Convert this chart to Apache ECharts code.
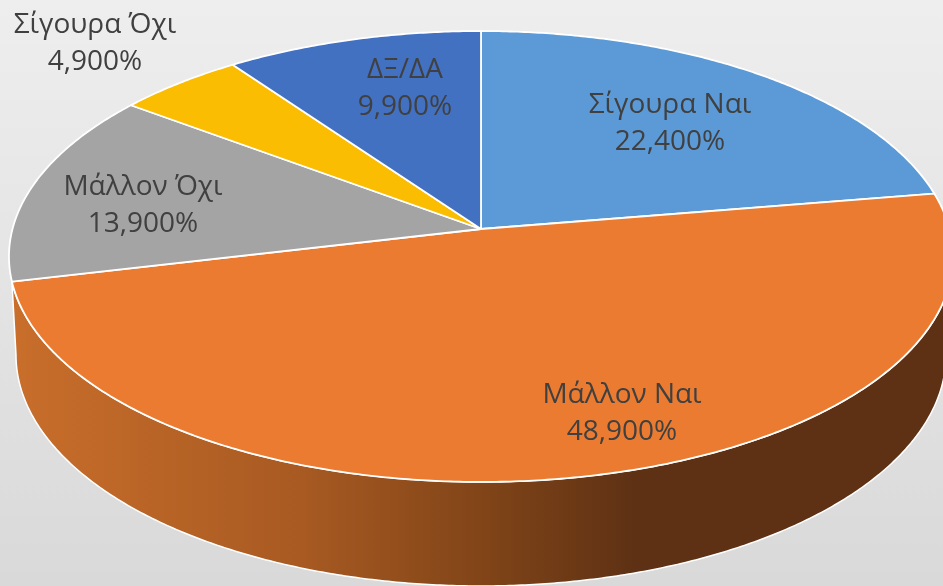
<!DOCTYPE html>
<html>
<head>
<meta charset="utf-8">
<style>html,body{margin:0;padding:0;background:#e5e5e5}#chart{width:943px;height:586px}</style>
<script src="https://cdn.jsdelivr.net/npm/echarts@6/dist/echarts.min.js"></script>
</head>
<body>
<div id="chart"></div>
<script>
const categories = ['Σίγουρα Ναι', 'Μάλλον Ναι', 'Μάλλον Όχι', 'Σίγουρα Όχι', 'ΔΞ/ΔΑ'];
const values = [22.4, 48.9, 13.9, 4.9, 9.9];
const colors = ['#5B9AD6', '#EB7B30', '#A4A4A4', '#FBBD02', '#4371C2'];
const labelCentres = [[670, 124], [622, 414], [143, 206], [95, 44], [405, 89]];

// Tilted-disc view: the pie's circle seen in perspective.
const view = { cx: 481, cy: 229, a: 468.5, b: 222.1, k: 0.122 };
const base = { cx: 481, cy: 355, rx: 465, ry: 231 };
const total = values.reduce((s, v) => s + v, 0);

function rim(deg) {
  const t = deg * Math.PI / 180, u = Math.sin(t), v = Math.cos(t), w = 1 + view.k * v;
  return [view.cx + view.a * u / w, view.cy - view.b * v / w];
}
function arc(from, to) {
  const n = Math.max(2, Math.ceil(Math.abs(to - from) * 2)), pts = [];
  for (let i = 0; i <= n; i++) pts.push(rim(from + (to - from) * i / n));
  return pts;
}
function wallPoints(from, to) {
  const pts = arc(from, to);
  for (let i = 0; i <= 360; i++) {
    const t = Math.PI * (1 - i / 360);
    pts.push([base.cx + base.rx * Math.cos(t), base.cy + base.ry * Math.sin(t)]);
  }
  return pts;
}
const wallFill = {
  type: 'linear', global: true, x: 12, y: 0, x2: 943, y2: 0,
  colorStops: [
    { offset: 0, color: '#C96E2B' },
    { offset: 0.31, color: '#A85A22' },
    { offset: 0.5, color: '#824518' },
    { offset: 0.67, color: '#5E3114' },
    { offset: 1, color: '#5E3114' }
  ]
};
const frontStart = Math.acos(-view.k) * 180 / Math.PI;

let running = 0;
const rows = values.map((v, i) => {
  const start = running / total * 360;
  running += v;
  return [start, running / total * 360, v, i];
});

function renderSlice(params, api) {
  const start = api.value(0), end = api.value(1), i = api.value(3);
  const children = [];
  if (start < 180 && end > 180) {
    children.push({
      type: 'polygon',
      shape: { points: wallPoints(Math.max(start, frontStart), end) },
      style: { fill: wallFill, stroke: '#fff', lineWidth: 1.5 }
    });
  }
  children.push({
    type: 'polygon',
    shape: { points: [[view.cx, view.cy]].concat(arc(start, end)) },
    style: { fill: colors[i], stroke: '#fff', lineWidth: 1.8, lineJoin: 'round' }
  });
  return { type: 'group', children };
}
function renderLabel(params, api) {
  const value = api.value(2), i = api.value(3);
  return {
    type: 'text',
    x: labelCentres[i][0], y: labelCentres[i][1],
    style: {
      text: categories[i] + '\n' + value.toFixed(3).replace('.', ',') + '%',
      font: '28px "Open Sans"', lineHeight: 37,
      fill: '#404040', align: 'center', verticalAlign: 'middle'
    }
  };
}

const chart = echarts.init(document.getElementById('chart'), null, { renderer: 'canvas' });
chart.setOption({
  animation: false,
  backgroundColor: {
    type: 'linear', x: 0, y: 0, x2: 0, y2: 1,
    colorStops: [{ offset: 0, color: '#EEEEEE' }, { offset: 1, color: '#D9D9D9' }]
  },
  series: [
    { type: 'custom', coordinateSystem: 'none', renderItem: renderSlice, data: rows, silent: true, z: 2 },
    { type: 'custom', coordinateSystem: 'none', renderItem: renderLabel, data: rows, silent: true, z: 3 }
  ]
});
</script>
</body>
</html>
